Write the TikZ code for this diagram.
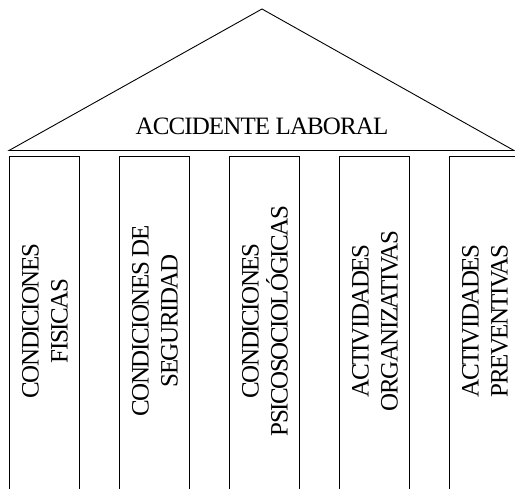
\documentclass[tikz,border=0pt]{standalone}
\usepackage{fontspec}
\setmainfont{Liberation Serif}
\newfontfamily\titulofont[LetterSpace=-3.5]{Liberation Serif}
\newfontfamily\pilarfont[LetterSpace=-6]{Liberation Serif}
\begin{document}
\begin{tikzpicture}[x=1pt,y=1pt,line width=0.9pt]
  \tikzset{pilar/.style={rotate=90, align=center, inner sep=0pt,
      font=\pilarfont\fontsize{25}{29}\selectfont}}
  \clip (0,0) rectangle (515,489);
  % techo
  \coordinate (cima) at (262,480);
  \coordinate (base izq) at (9,338.5);
  \coordinate (base der) at (514,338.5);
  \draw (base izq)--(cima)--(base der)--cycle;
  \node[font=\titulofont\fontsize{25}{29}\selectfont, inner sep=0pt] (titulo) at (262,362.5) {ACCIDENTE LABORAL};
  % columnas
  \foreach \x/\nombre/\texto in {9/fisicas/{CONDICIONES\\FISICAS},
      119/seguridad/{CONDICIONES DE\\SEGURIDAD},
      229/psico/{CONDICIONES\\PSICOSOCIOLÓGICAS},
      339/organiza/{ACTIVIDADES\\ORGANIZATIVAS},
      449/preventiva/{ACTIVIDADES\\PREVENTIVAS}}{
    \draw (\x,-5) |- (\x+70,332.3) -- (\x+70,-5);
    \node[pilar] (\nombre) at (\x+36,168) {\texto};
  }
\end{tikzpicture}
\end{document}
